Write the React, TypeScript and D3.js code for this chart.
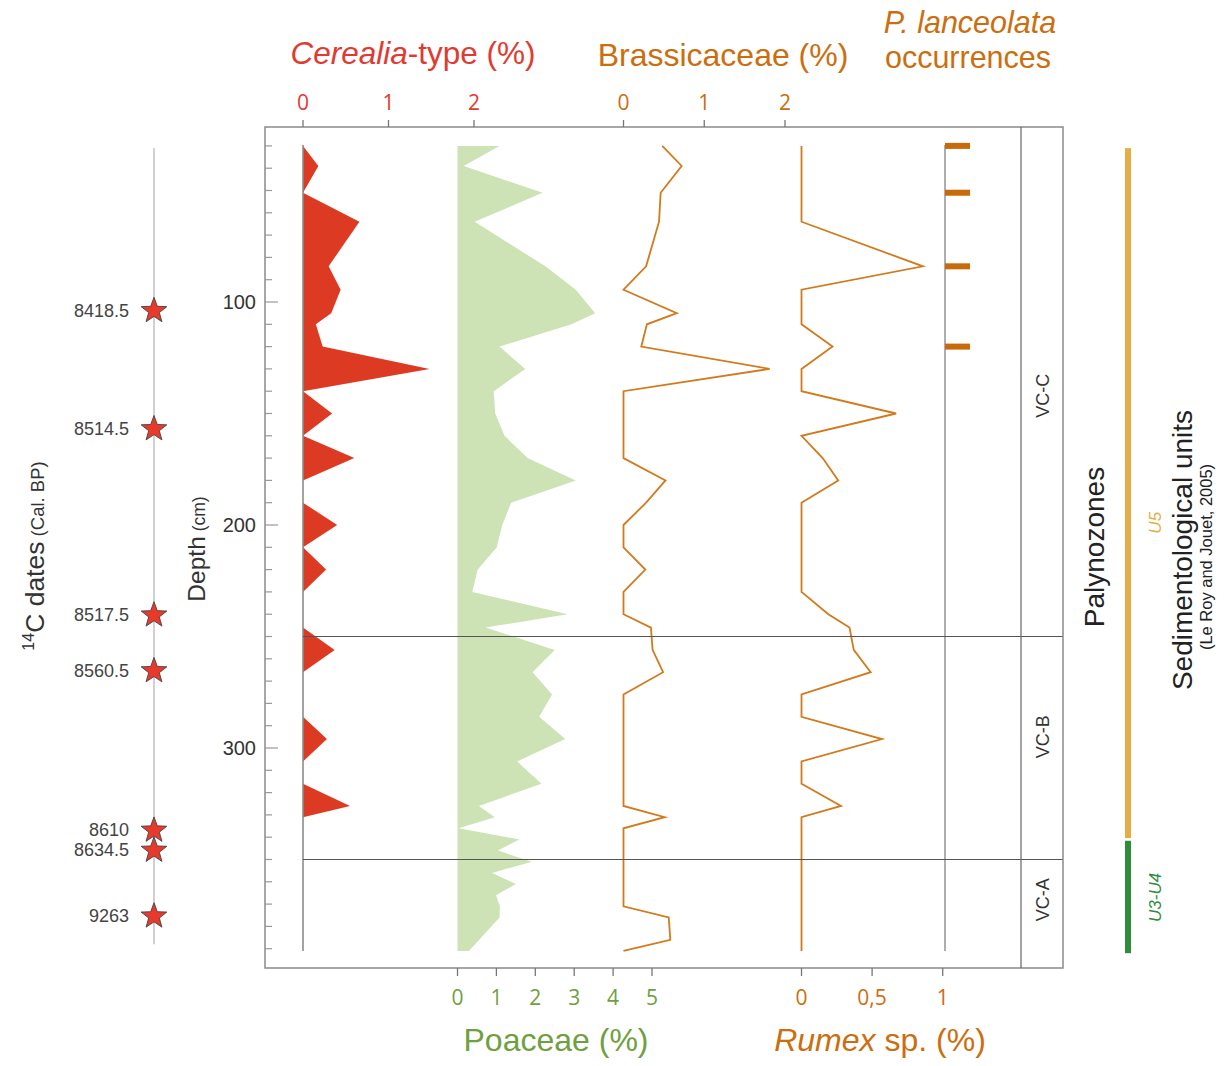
import React from "react";
import * as d3 from "d3";

// ---- data ----
const depths = [30, 39, 51, 64, 84, 94.5, 105, 110, 120, 130, 140, 150, 160, 170, 180, 190, 200, 210, 220, 230, 240, 246, 256, 266, 276, 286, 296, 306, 316, 326, 331, 336, 341, 346, 351, 356, 361, 366, 371, 376, 386, 391];
const cerealia = [0, 0.18, 0, 0.66, 0.30, 0.44, 0.33, 0.15, 0.23, 1.48, 0, 0.34, 0, 0.60, 0, 0, 0.40, 0, 0.27, 0, 0, 0, 0.37, 0, 0, 0, 0.28, 0, 0, 0.55, 0, 0, 0, 0, 0, 0, 0, 0, 0, 0, 0, 0];
const poaceae = [1.08, 0.16, 2.19, 0.44, 2.26, 3.04, 3.54, 2.93, 1.08, 1.74, 0.93, 0.97, 1.21, 1.80, 3.04, 1.38, 1.15, 1.01, 0.52, 0.38, 2.83, 0.72, 2.50, 1.93, 2.43, 2.10, 2.77, 1.53, 2.16, 0.55, 0.96, 0.03, 1.59, 1.04, 1.91, 0.89, 1.50, 0.99, 1.09, 1.08, 0.56, 0.29];
const brassicaceae = [0.48, 0.72, 0.46, 0.44, 0.28, 0, 0.66, 0.29, 0.22, 1.81, 0, 0, 0, 0, 0.52, 0.28, 0, 0, 0.27, 0, 0, 0.34, 0.36, 0.49, 0, 0, 0, 0, 0, 0, 0.51, 0, 0, 0, 0, 0, 0, 0, 0, 0.56, 0.58, 0];
const rumex = [0, 0, 0, 0, 0.86, 0, 0, 0, 0.22, 0, 0, 0.67, 0, 0.15, 0.26, 0, 0, 0, 0, 0, 0.19, 0.34, 0.37, 0.49, 0, 0, 0.57, 0, 0, 0.28, 0, 0, 0, 0, 0, 0, 0, 0, 0, 0, 0, 0];
const plantagoOccurrences = [30, 51, 84, 120];

const dateDepths = [103.5, 156.5, 240, 265, 336.5, 345.5, 375];
const dateLabels = ["8418.5", "8514.5", "8517.5", "8560.5", "8610", "8634.5", "9263"];

const depthTicksMajor = [100, 200, 300];
const depthTicksMinor = d3.range(30, 391, 10);

const cerealiaTicks = [0, 1, 2];
const brassTicks = [0, 1, 2];
const poaceaeTicks = [0, 1, 2, 3, 4, 5];
const rumexTicks = [0, 0.5, 1];
const rumexTickLabels = ["0", "0,5", "1"];

const zoneNames = ["VC-C", "VC-B", "VC-A"];
const zoneBounds = [30, 250, 350, 390];
const zoneLabelDepths = [142, 295, 368];

const sedUnits = ["U5", "U3-U4"];
const sedBounds = [31, 340.4, 341.6, 392];
const sedLabelDepths = [199, 367];

// ---- styling ----
const RED = "#DD3A24";
const RED_TXT = "#E23A30";
const ORANGE_LINE = "#D27A1C";
const ORANGE_TXT = "#CC6E0E";
const GREEN_FILL = "#CDE3B5";
const GREEN_TXT = "#6FA040";
const SED_ORANGE = "#E6AD45";
const SED_GREEN = "#2F8C3B";
const FRAME = "#8a8a8a";
const TITLE_FONT = "'Liberation Sans', Arial, sans-serif";
const TICK_FONT = "'Open Sans', sans-serif";

export default function App() {
  const W = 1228, H = 1066;
  const frame = { left: 265, right: 1063, top: 127, bottom: 968 };
  const zoneColX = 1021;

  const y = d3.scaleLinear().domain([100, 300]).range([302, 748]);
  const xCer = d3.scaleLinear().domain([0, 2]).range([303, 474]);
  const xPoa = d3.scaleLinear().domain([0, 5]).range([457.5, 652]);
  const xBra = d3.scaleLinear().domain([0, 2]).range([623.5, 785]);
  const xRum = d3.scaleLinear().domain([0, 1]).range([801.5, 942.7]);
  const plantagoX = 945;
  const dateX = 154;

  const cerArea = d3.area<number>()
    .y((_, i) => y(depths[i]))
    .x0(xCer(0))
    .x1((d) => xCer(d));
  const poaArea = d3.area<number>()
    .y((_, i) => y(depths[i]))
    .x0(xPoa(0))
    .x1((d) => xPoa(d));
  const braLine = d3.line<number>()
    .y((_, i) => y(depths[i]))
    .x((d) => xBra(d));
  const rumLine = d3.line<number>()
    .y((_, i) => y(depths[i]))
    .x((d) => xRum(d));

  const starPath = (R: number, r: number) => {
    const pts: [number, number][] = [];
    for (let k = 0; k < 10; k++) {
      const a = -Math.PI / 2 + (k * Math.PI) / 5;
      const rad = k % 2 === 0 ? R : r;
      pts.push([Math.cos(a) * rad, Math.sin(a) * rad]);
    }
    return d3.line()(pts) + "Z";
  };
  const star = starPath(13.5, 5.6);

  const d0 = depths[0];
  const dN = depths[depths.length - 1];

  return (
    <svg width={W} height={H} style={{ position: "absolute", left: 0, top: 0, background: "#fff" }}>
      <rect x={0} y={0} width={W} height={H} fill="#fff" />

      {/* Poaceae area */}
      <path d={poaArea(poaceae) || ""} fill={GREEN_FILL} />
      {/* Cerealia area */}
      <path d={cerArea(cerealia) || ""} fill={RED} />
      <line x1={xCer(0)} x2={xCer(0)} y1={y(d0) - 1} y2={y(dN)} stroke="#8c8c8c" strokeWidth={1.6} />

      {/* Brassicaceae and Rumex lines */}
      <path d={braLine(brassicaceae) || ""} fill="none" stroke={ORANGE_LINE} strokeWidth={1.8} />
      <path d={rumLine(rumex) || ""} fill="none" stroke={ORANGE_LINE} strokeWidth={1.8} />

      {/* Plantago occurrences */}
      <line x1={plantagoX} x2={plantagoX} y1={y(d0) - 1} y2={y(dN)} stroke="#8c8c8c" strokeWidth={1.4} />
      {plantagoOccurrences.map((d, i) => (
        <rect key={i} x={plantagoX} y={y(d) - 3} width={25} height={6} fill="#C8690A" />
      ))}

      {/* zone boundaries */}
      {zoneBounds.slice(1, -1).map((d, i) => (
        <line key={i} x1={xCer(0)} x2={frame.right} y1={y(d)} y2={y(d)} stroke="#555" strokeWidth={1.1} />
      ))}

      {/* frame */}
      <rect x={frame.left} y={frame.top} width={frame.right - frame.left} height={frame.bottom - frame.top}
        fill="none" stroke={FRAME} strokeWidth={1.5} />
      <line x1={zoneColX} x2={zoneColX} y1={frame.top} y2={frame.bottom} stroke="#666" strokeWidth={1.2} />

      {/* zone labels */}
      {zoneNames.map((n, i) => (
        <text key={n} transform={`translate(${1049},${y(zoneLabelDepths[i])}) rotate(-90)`} textAnchor="middle"
          fontFamily={TITLE_FONT} fontSize={18} fill="#333">{n}</text>
      ))}

      {/* depth axis */}
      {depthTicksMinor.map((d) => (
        <line key={d} x1={frame.left} x2={frame.left + (depthTicksMajor.includes(d) ? 13 : 7)} y1={y(d)} y2={y(d)}
          stroke="#999" strokeWidth={1.2} />
      ))}
      {depthTicksMajor.map((d) => (
        <text key={d} x={256} y={y(d)} dy="0.35em" textAnchor="end" fontFamily={TITLE_FONT} fontSize={20} fill="#333">{d}</text>
      ))}
      <text transform={`translate(205,549) rotate(-90)`} textAnchor="middle" fontFamily={TITLE_FONT} fill="#333">
        <tspan fontSize={24.5}>Depth</tspan>
        <tspan fontSize={17.5}> (cm)</tspan>
      </text>

      {/* top axes */}
      {cerealiaTicks.map((t) => (
        <g key={"c" + t}>
          <line x1={xCer(t)} x2={xCer(t)} y1={frame.top - 7} y2={frame.top} stroke="#777" strokeWidth={1.3} />
          <text x={xCer(t)} y={110} textAnchor="middle" fontFamily={TICK_FONT} fontSize={21} fill={RED_TXT}>{t}</text>
        </g>
      ))}
      {brassTicks.map((t) => (
        <g key={"b" + t}>
          <line x1={xBra(t)} x2={xBra(t)} y1={frame.top - 7} y2={frame.top} stroke="#777" strokeWidth={1.3} />
          <text x={xBra(t)} y={110} textAnchor="middle" fontFamily={TICK_FONT} fontSize={21} fill={ORANGE_TXT}>{t}</text>
        </g>
      ))}
      <text x={413} y={64} textAnchor="middle" fontFamily={TITLE_FONT} fontSize={31.5} fill={RED_TXT}>
        <tspan fontStyle="italic">Cerealia</tspan>
        <tspan>-type (%)</tspan>
      </text>
      <text x={723} y={66} textAnchor="middle" fontFamily={TITLE_FONT} fontSize={32} fill={ORANGE_TXT}>Brassicaceae (%)</text>
      <text x={970} y={33} textAnchor="middle" fontFamily={TITLE_FONT} fontSize={30.5} fontStyle="italic" fill={ORANGE_TXT}>P. lanceolata</text>
      <text x={968} y={68} textAnchor="middle" fontFamily={TITLE_FONT} fontSize={30.5} fill={ORANGE_TXT}>occurrences</text>

      {/* bottom axes */}
      {poaceaeTicks.map((t) => (
        <g key={"p" + t}>
          <line x1={xPoa(t)} x2={xPoa(t)} y1={frame.bottom} y2={frame.bottom + 8} stroke="#777" strokeWidth={1.3} />
          <text x={xPoa(t)} y={1005} textAnchor="middle" fontFamily={TICK_FONT} fontSize={21} fill={GREEN_TXT}>{t}</text>
        </g>
      ))}
      {rumexTicks.map((t, i) => (
        <g key={"r" + t}>
          <line x1={xRum(t)} x2={xRum(t)} y1={frame.bottom} y2={frame.bottom + 8} stroke="#777" strokeWidth={1.3} />
          <text x={xRum(t)} y={1005} textAnchor="middle" fontFamily={TICK_FONT} fontSize={21} fill={ORANGE_TXT}>{rumexTickLabels[i]}</text>
        </g>
      ))}
      <text x={556} y={1051} textAnchor="middle" fontFamily={TITLE_FONT} fontSize={32} fill={GREEN_TXT}>Poaceae (%)</text>
      <text x={880} y={1051} textAnchor="middle" fontFamily={TITLE_FONT} fontSize={32} fill={ORANGE_TXT}>
        <tspan fontStyle="italic">Rumex</tspan>
        <tspan> sp. (%)</tspan>
      </text>

      {/* 14C dates */}
      <line x1={dateX} x2={dateX} y1={y(31)} y2={y(388)} stroke="#bdbdbd" strokeWidth={1.4} />
      {dateDepths.map((d, i) => (
        <g key={i}>
          <path d={star} transform={`translate(${dateX},${y(d) + 1})`} fill="#E8392A" stroke="#444" strokeWidth={0.9} />
          <text x={129} y={y(d) + 7} textAnchor="end" fontFamily={TITLE_FONT} fontSize={18} fill="#444">{dateLabels[i]}</text>
        </g>
      ))}
      <text transform={`translate(44,556) rotate(-90)`} textAnchor="middle" fontFamily={TITLE_FONT} fill="#333">
        <tspan fontSize={16} dy={-10}>14</tspan>
        <tspan fontSize={26.5} dy={10}>C dates</tspan>
        <tspan fontSize={18.5}> (Cal. BP)</tspan>
      </text>

      {/* right side */}
      <text transform={`translate(1104,547) rotate(-90)`} textAnchor="middle" fontFamily={TITLE_FONT} fontSize={28} fill="#222">Palynozones</text>
      {sedUnits.map((u, i) => {
        const y0 = y(sedBounds[i * 2]);
        const y1 = y(sedBounds[i * 2 + 1]);
        const col = i === 0 ? SED_ORANGE : SED_GREEN;
        return (
          <g key={u}>
            <rect x={1125} y={y0} width={6} height={y1 - y0} fill={col} />
            <text transform={`translate(1161,${y(sedLabelDepths[i])}) rotate(-90)`} textAnchor="middle" fontFamily={TITLE_FONT}
              fontSize={17} fontStyle="italic" fill={col}>{u}</text>
          </g>
        );
      })}
      <text transform={`translate(1192,550) rotate(-90)`} textAnchor="middle" fontFamily={TITLE_FONT} fontSize={28} fill="#222">Sedimentological units</text>
      <text transform={`translate(1212,557) rotate(-90)`} textAnchor="middle" fontFamily={TITLE_FONT} fontSize={16.5} fill="#222">(Le Roy and Jouet, 2005)</text>
    </svg>
  );
}
